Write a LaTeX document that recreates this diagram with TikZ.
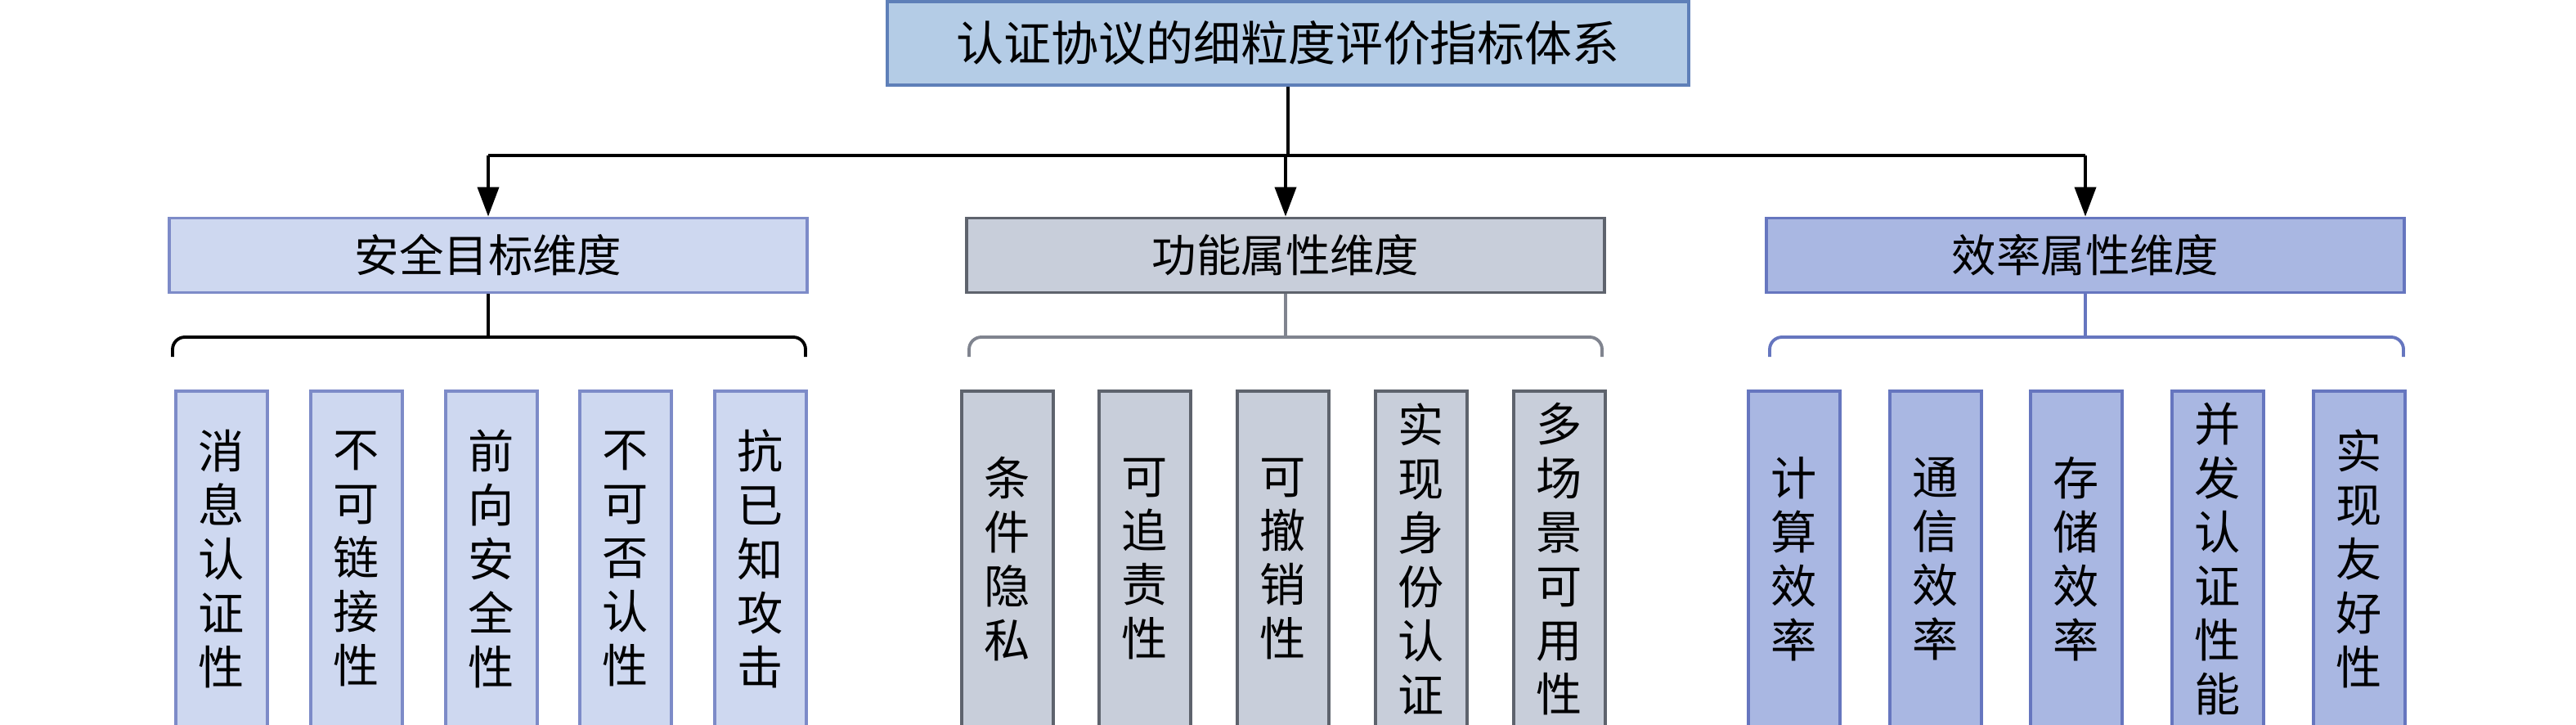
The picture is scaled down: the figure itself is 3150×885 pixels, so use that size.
\documentclass[tikz,border=0pt]{standalone}
\usepackage{fontspec}
\newfontfamily\cjk{Noto Sans CJK SC}
\usetikzlibrary{positioning,arrows.meta}

\definecolor{topfill}{HTML}{B4CCE6}
\definecolor{topline}{HTML}{5E7FB8}
\definecolor{secfill}{HTML}{CED8F0}
\definecolor{secline}{HTML}{7D8BC8}
\definecolor{funfill}{HTML}{C8CEDA}
\definecolor{funline}{HTML}{5E636D}
\definecolor{funbrace}{HTML}{80848F}
\definecolor{efffill}{HTML}{A9B7E2}
\definecolor{effline}{HTML}{6676BF}

\tikzset{
	rootbox/.style={draw=topline,fill=topfill,line width=1.1pt,minimum width=98mm,minimum height=10.2mm,inner sep=0pt,font=\cjk\fontsize{16.5}{18}\selectfont},
	dimbox/.style={line width=1.1pt,minimum width=78mm,minimum height=9.1mm,inner sep=0pt,font=\cjk\fontsize{15.5}{18}\selectfont},
	leafbox/.style={line width=1.1pt,minimum width=11.2mm,minimum height=41mm,inner sep=0pt,anchor=north,align=center,font=\cjk\fontsize{16}{18.8}\selectfont},
	secleaf/.style={leafbox,draw=secline,fill=secfill},
	funleaf/.style={leafbox,draw=funline,fill=funfill},
	effleaf/.style={leafbox,draw=effline,fill=efffill},
	brace/.style={line width=1.1pt,rounded corners=1.5mm},
	feed/.style={line width=1.1pt,-{Triangle[length=3.6mm,width=2.6mm]}},
}

\begin{document}
\begin{tikzpicture}[x=0.1mm,y=0.1mm]
	\useasboundingbox (0,0) rectangle (3150,-885);
	% root and the three dimensions
	\node[rootbox] (root) at (1575,-53) {认证协议的细粒度评价指标体系};
	\node[dimbox,draw=secline,fill=secfill] (sec) at (597,-312) {安全目标维度};
	\node[dimbox,draw=funline,fill=funfill] (fun) at (1572,-312) {功能属性维度};
	\node[dimbox,draw=effline,fill=efffill] (eff) at (2550,-312) {效率属性维度};
	\coordinate (hub) at (1575,-190);
	\coordinate (lvl) at (0,-412);
	\draw[line width=1.1pt] (root.south) -- (hub);
	\draw[line width=1.1pt] (hub -| sec.north) -- (hub -| eff.north);
	\draw[feed] (hub -| sec.north) -- (sec.north);
	\draw[feed] (hub -| fun.north) -- (fun.north);
	\draw[feed] (hub -| eff.north) -- (eff.north);
	% braces
	\draw[brace,black] (sec.south) -- (sec.south |- lvl);
	\draw[brace,black] (211,-436) -- (211,-412) -- (985,-412) -- (985,-436);
	\draw[brace,funbrace] (fun.south) -- (fun.south |- lvl);
	\draw[brace,funbrace] (1185,-436) -- (1185,-412) -- (1959,-412) -- (1959,-436);
	\draw[brace,effline] (eff.south) -- (eff.south |- lvl);
	\draw[brace,effline] (2164,-436) -- (2164,-412) -- (2939,-412) -- (2939,-436);
	% leaves
	\node[secleaf] (s1) at (271,-476) {消\\息\\认\\证\\性};
	\node[secleaf] (s2) at (436,-476) {不\\可\\链\\接\\性};
	\node[secleaf] (s3) at (601,-476) {前\\向\\安\\全\\性};
	\node[secleaf] (s4) at (765,-476) {不\\可\\否\\认\\性};
	\node[secleaf] (s5) at (930,-476) {抗\\已\\知\\攻\\击};
	\node[funleaf] (f1) at (1232,-476) {条\\件\\隐\\私};
	\node[funleaf] (f2) at (1400,-476) {可\\追\\责\\性};
	\node[funleaf] (f3) at (1569,-476) {可\\撤\\销\\性};
	\node[funleaf] (f4) at (1738,-476) {实\\现\\身\\份\\认\\证};
	\node[funleaf] (f5) at (1907,-476) {多\\场\\景\\可\\用\\性};
	\node[effleaf] (e1) at (2194,-476) {计\\算\\效\\率};
	\node[effleaf] (e2) at (2367,-476) {通\\信\\效\\率};
	\node[effleaf] (e3) at (2539,-476) {存\\储\\效\\率};
	\node[effleaf] (e4) at (2712,-476) {并\\发\\认\\证\\性\\能};
	\node[effleaf] (e5) at (2885,-476) {实\\现\\友\\好\\性};
\end{tikzpicture}
\end{document}
